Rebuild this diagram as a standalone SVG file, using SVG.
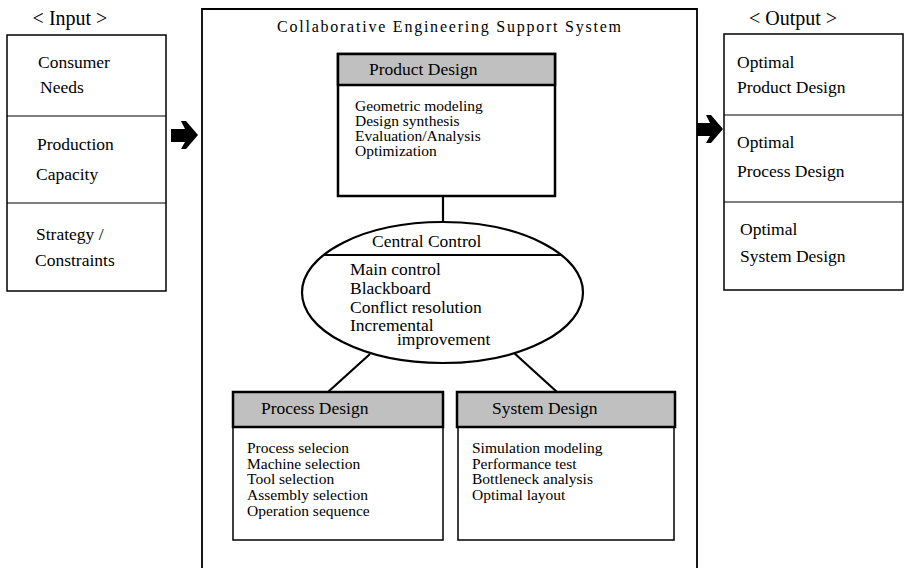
<svg xmlns="http://www.w3.org/2000/svg" width="906" height="568" viewBox="0 0 906 568">
  <style>
    text { font-family: "Liberation Serif", "Times New Roman", serif; fill: #000; }
    .lbl { font-size: 17.5px; }
    .head { font-size: 20px; }
    .item { font-size: 15.5px; }
    .cc { font-size: 17.5px; }
    .box { fill: #fff; stroke: #000; stroke-width: 1.5; }
    .thick { fill: #fff; stroke: #000; stroke-width: 2.5; }
    .hdr { fill: #c0c0c0; stroke: #000; stroke-width: 2.5; }
    .div { stroke: #000; stroke-width: 1.2; }
    .wire { stroke: #000; stroke-width: 2.2; fill: none; }
    .arrow { fill: #000; }
  </style>
  <rect width="906" height="568" fill="#fff"/>

  <!-- Input column -->
  <g id="input">
    <text class="head" x="70" y="25" text-anchor="middle">&lt; Input &gt;</text>
    <rect class="box" x="7" y="35" width="159" height="256"/>
    <line class="div" x1="7" y1="116" x2="166" y2="116"/>
    <line class="div" x1="7" y1="203" x2="166" y2="203"/>
    <text class="lbl" x="38" y="68">Consumer</text>
    <text class="lbl" x="40" y="93">Needs</text>
    <text class="lbl" x="37" y="150">Production</text>
    <text class="lbl" x="36" y="180">Capacity</text>
    <text class="lbl" x="36" y="240">Strategy /</text>
    <text class="lbl" x="35" y="266">Constraints</text>
  </g>

  <!-- Output column -->
  <g id="output">
    <text class="head" x="793" y="25" text-anchor="middle">&lt; Output &gt;</text>
    <rect class="box" x="724" y="34" width="179" height="256"/>
    <line class="div" x1="724" y1="115" x2="903" y2="115"/>
    <line class="div" x1="724" y1="202" x2="903" y2="202"/>
    <text class="lbl" x="737" y="68">Optimal</text>
    <text class="lbl" x="737" y="93">Product Design</text>
    <text class="lbl" x="737" y="148">Optimal</text>
    <text class="lbl" x="737" y="177">Process Design</text>
    <text class="lbl" x="740" y="235">Optimal</text>
    <text class="lbl" x="740" y="262">System Design</text>
  </g>

  <!-- Main system frame (open at the bottom edge) -->
  <g id="system">
    <path d="M202 572 V9 H697 V572" fill="#fff" stroke="#000" stroke-width="1.8"/>
    <text x="449" y="32" font-size="16" text-anchor="middle" textLength="344" lengthAdjust="spacing">Collaborative Engineering Support System</text>
  </g>

  <!-- Connectors -->
  <g id="connectors">
    <polygon class="arrow" points="171,129 185,129 181,121 186,121 198,135 186,149 181,149 185,142 171,142"/>
    <polygon class="arrow" points="697,123 710,123 706,115 711,115 723,129 711,143 706,143 710,136 697,136"/>
    <line class="wire" x1="443" y1="196" x2="443" y2="222"/>
    <line class="wire" x1="370" y1="354" x2="328" y2="392"/>
    <line class="wire" x1="513" y1="352" x2="557" y2="392"/>
  </g>

  <!-- Product Design -->
  <g id="product-design">
    <rect class="thick" x="338" y="54" width="217" height="142"/>
    <rect class="hdr" x="338" y="54" width="217" height="31"/>
    <text class="cc" x="369" y="75">Product Design</text>
    <text class="item" x="355" y="111">Geometric modeling</text>
    <text class="item" x="355" y="126">Design synthesis</text>
    <text class="item" x="355" y="141">Evaluation/Analysis</text>
    <text class="item" x="355" y="156">Optimization</text>
  </g>

  <!-- Central Control -->
  <g id="central-control">
    <ellipse cx="442.5" cy="292.5" rx="140.5" ry="70.5" fill="#fff" stroke="#000" stroke-width="2.2"/>
    <line x1="323" y1="255" x2="561" y2="255" stroke="#000" stroke-width="1.8"/>
    <text class="cc" x="372" y="247">Central Control</text>
    <text class="cc" x="350" y="275">Main control</text>
    <text class="cc" x="350" y="294">Blackboard</text>
    <text class="cc" x="350" y="313">Conflict resolution</text>
    <text class="cc" x="350" y="331">Incremental</text>
    <text class="cc" x="397" y="345">improvement</text>
  </g>

  <!-- Process Design -->
  <g id="process-design">
    <rect class="box" x="233" y="427" width="210" height="113"/>
    <rect class="hdr" x="233" y="392" width="210" height="35"/>
    <text class="cc" x="261" y="414">Process Design</text>
    <text class="item" x="247" y="453">Process selecion</text>
    <text class="item" x="247" y="469">Machine selection</text>
    <text class="item" x="247" y="484">Tool selection</text>
    <text class="item" x="247" y="500">Assembly selection</text>
    <text class="item" x="247" y="516">Operation sequence</text>
  </g>

  <!-- System Design -->
  <g id="system-design">
    <rect class="box" x="458" y="427" width="216" height="113"/>
    <rect class="hdr" x="457" y="392" width="218" height="35"/>
    <text class="cc" x="492" y="414">System Design</text>
    <text class="item" x="472" y="453">Simulation modeling</text>
    <text class="item" x="472" y="469">Performance test</text>
    <text class="item" x="472" y="484">Bottleneck analysis</text>
    <text class="item" x="472" y="500">Optimal layout</text>
  </g>
</svg>
